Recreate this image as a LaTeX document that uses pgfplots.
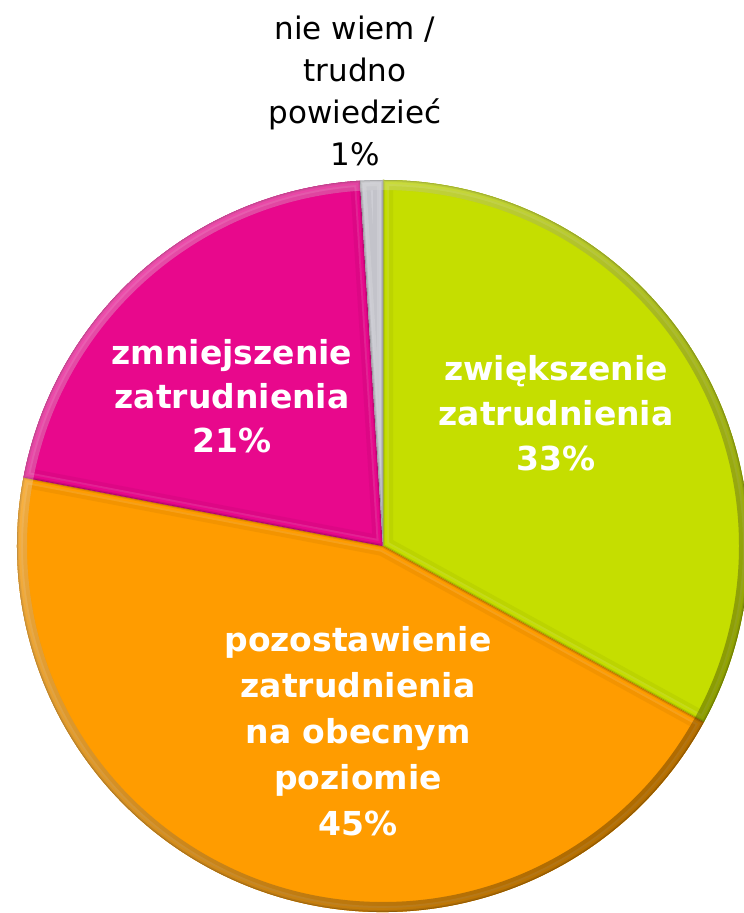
\documentclass[border=0pt]{standalone}
\usepackage{pgfplots}
\pgfplotsset{compat=1.18}
\usepackage{fontspec}
\setmainfont{DejaVu Sans}
\definecolor{pgreen}{RGB}{197,222,0}
\definecolor{porange}{RGB}{255,156,0}
\definecolor{ppink}{RGB}{232,8,140}
\definecolor{pgrey}{RGB}{205,205,212}
\newcommand{\wedgepath}[2]{(axis cs:383,367) -- ++({90-3.6*#1}:366pt)
      arc[start angle={90-3.6*#1}, delta angle={-3.6*#2}, radius=366pt] -- cycle}
% #1 cumulative percent before slice, #2 slice percent, #3 colour
\newcommand{\pieslice}[3]{%
  \begin{scope}
    \clip \wedgepath{#1}{#2};
    \fill[#3] (axis cs:0,0) rectangle (axis cs:744,913);
    \draw[#3!75!black, line width=20pt, opacity=.18, line join=round] \wedgepath{#1}{#2};
    \draw[#3!65!white, line width=12pt, opacity=.30, line join=round] \wedgepath{#1}{#2};
    \draw[#3, line width=8pt, line join=round] \wedgepath{#1}{#2};
    \draw[#3!75!black, line width=4pt, opacity=.35, line join=round] \wedgepath{#1}{#2};
    \draw[#3!55!black, line width=1.5pt, opacity=.45, line join=round] \wedgepath{#1}{#2};
  \end{scope}}
\begin{document}
\begin{tikzpicture}
\begin{axis}[
  width=744pt, height=913pt, scale only axis,
  xmin=0, xmax=744, ymin=0, ymax=913,
  hide axis, clip=true]
  \path (axis cs:0,0) rectangle (axis cs:744,913);
  % values (percent): 33, 45, 21, 1
  \pieslice{0}{33}{pgreen}
  \pieslice{33}{45}{porange}
  \pieslice{78}{21}{ppink}
  \pieslice{99}{1}{pgrey}
  % rim lighting
  \begin{scope}[even odd rule]
    \clip (axis cs:383,367) circle[radius=366pt] (axis cs:383,367) circle[radius=356pt];
    \shade[top color=white, bottom color=black, shading angle=45, opacity=.28]
      (axis cs:17,1) rectangle (axis cs:749,733);
  \end{scope}
  \node[align=center, text=white, font=\bfseries\fontsize{33}{45}\selectfont]
    at (axis cs:556,500) {zwiększenie\\zatrudnienia\\33\%};
  \node[align=center, text=white, font=\bfseries\fontsize{33}{44}\selectfont]
    at (axis cs:232,517) {zmniejszenie\\zatrudnienia\\21\%};
  \node[align=center, text=white, font=\bfseries\fontsize{33}{46}\selectfont]
    at (axis cs:358,182) {pozostawienie\\zatrudnienia\\na obecnym\\poziomie\\45\%};
  \node[align=center, text=black, font=\fontsize{31}{42}\selectfont]
    at (axis cs:355,822) {nie wiem /\\trudno\\powiedzieć\\1\%};
\end{axis}
\end{tikzpicture}
\end{document}
